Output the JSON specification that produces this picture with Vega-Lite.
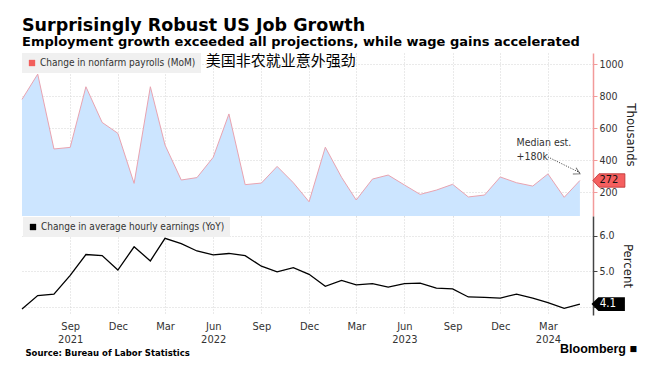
{
  "$schema": "https://vega.github.io/schema/vega-lite/v6.json",
  "padding": {"left": 19, "top": 16, "right": 5, "bottom": 5},
  "background": "white",
  "title": {
    "text": "Surprisingly Robust US Job Growth",
    "subtitle": "Employment growth exceeded all projections, while wage gains accelerated",
    "anchor": "start",
    "frame": "group",
    "font": "DejaVu Sans",
    "fontSize": 17.5,
    "fontWeight": "bold",
    "color": "#000000",
    "subtitleFont": "DejaVu Sans",
    "subtitleFontSize": 13,
    "subtitleFontWeight": "bold",
    "subtitleColor": "#000000",
    "subtitlePadding": 2,
    "offset": 4
  },
  "config": {
    "view": {"stroke": null},
    "axis": {
      "labelFont": "DejaVu Sans Condensed",
      "titleFont": "DejaVu Sans Condensed",
      "labelColor": "#333333",
      "titleColor": "#222222",
      "gridColor": "#d4d4d4",
      "gridDash": [1, 2],
      "gridWidth": 1
    },
    "legend": {
      "labelFont": "DejaVu Sans Condensed",
      "labelFontSize": 10,
      "labelColor": "#333333",
      "labelLimit": 400
    }
  },
  "datasets": {
    "main": [
      {"date": "2021-06-01", "payrolls": 779, "ahe": 3.93},
      {"date": "2021-07-01", "payrolls": 937, "ahe": 4.31},
      {"date": "2021-08-01", "payrolls": 469, "ahe": 4.35},
      {"date": "2021-09-01", "payrolls": 479, "ahe": 4.88},
      {"date": "2021-10-01", "payrolls": 858, "ahe": 5.47},
      {"date": "2021-11-01", "payrolls": 635, "ahe": 5.44},
      {"date": "2021-12-01", "payrolls": 567, "ahe": 5.03},
      {"date": "2022-01-01", "payrolls": 254, "ahe": 5.69},
      {"date": "2022-02-01", "payrolls": 858, "ahe": 5.29},
      {"date": "2022-03-01", "payrolls": 494, "ahe": 5.93},
      {"date": "2022-04-01", "payrolls": 275, "ahe": 5.78},
      {"date": "2022-05-01", "payrolls": 290, "ahe": 5.57},
      {"date": "2022-06-01", "payrolls": 417, "ahe": 5.46},
      {"date": "2022-07-01", "payrolls": 688, "ahe": 5.50},
      {"date": "2022-08-01", "payrolls": 246, "ahe": 5.44},
      {"date": "2022-09-01", "payrolls": 256, "ahe": 5.14},
      {"date": "2022-10-01", "payrolls": 360, "ahe": 4.98},
      {"date": "2022-11-01", "payrolls": 258, "ahe": 5.10},
      {"date": "2022-12-01", "payrolls": 139, "ahe": 4.91},
      {"date": "2023-01-01", "payrolls": 480, "ahe": 4.57},
      {"date": "2023-02-01", "payrolls": 292, "ahe": 4.74},
      {"date": "2023-03-01", "payrolls": 150, "ahe": 4.61},
      {"date": "2023-04-01", "payrolls": 281, "ahe": 4.65},
      {"date": "2023-05-01", "payrolls": 306, "ahe": 4.55},
      {"date": "2023-06-01", "payrolls": 244, "ahe": 4.65},
      {"date": "2023-07-01", "payrolls": 185, "ahe": 4.66},
      {"date": "2023-08-01", "payrolls": 212, "ahe": 4.52},
      {"date": "2023-09-01", "payrolls": 248, "ahe": 4.50},
      {"date": "2023-10-01", "payrolls": 169, "ahe": 4.27},
      {"date": "2023-11-01", "payrolls": 181, "ahe": 4.26},
      {"date": "2023-12-01", "payrolls": 294, "ahe": 4.24},
      {"date": "2024-01-01", "payrolls": 258, "ahe": 4.35},
      {"date": "2024-02-01", "payrolls": 237, "ahe": 4.24},
      {"date": "2024-03-01", "payrolls": 313, "ahe": 4.11},
      {"date": "2024-04-01", "payrolls": 167, "ahe": 3.95},
      {"date": "2024-05-01", "payrolls": 272, "ahe": 4.07}
    ]
  },
  "spacing": 0,
  "resolve": {"scale": {"color": "independent"}, "legend": {"color": "independent"}},
  "vconcat": [
    {
      "width": 571,
      "height": 163,
      "data": {"name": "main"},
      "encoding": {
        "x": {
          "field": "date",
          "type": "temporal",
          "scale": {
            "type": "utc",
            "domain": [
              {"year": 2021, "month": 6, "date": 1, "utc": true},
              {"year": 2024, "month": 5, "date": 26, "utc": true}
            ]
          },
          "axis": {
            "title": null,
            "labels": false,
            "ticks": false,
            "domain": false,
            "grid": true,
            "values": [
              {"year": 2021, "month": 9, "date": 1, "utc": true},
              {"year": 2021, "month": 12, "date": 1, "utc": true},
              {"year": 2022, "month": 3, "date": 1, "utc": true},
              {"year": 2022, "month": 6, "date": 1, "utc": true},
              {"year": 2022, "month": 9, "date": 1, "utc": true},
              {"year": 2022, "month": 12, "date": 1, "utc": true},
              {"year": 2023, "month": 3, "date": 1, "utc": true},
              {"year": 2023, "month": 6, "date": 1, "utc": true},
              {"year": 2023, "month": 9, "date": 1, "utc": true},
              {"year": 2023, "month": 12, "date": 1, "utc": true},
              {"year": 2024, "month": 3, "date": 1, "utc": true}
            ]
          }
        }
      },
      "layer": [
        {
          "mark": {"type": "area", "color": "#cce5ff"},
          "encoding": {
            "y": {
              "field": "payrolls",
              "type": "quantitative",
              "scale": {"domain": [50, 1069], "zero": false, "nice": false},
              "axis": {
                "orient": "right",
                "values": [200, 400, 600, 800, 1000],
                "format": "d",
                "title": "Thousands",
                "titleAngle": 90,
                "titleFontSize": 13,
                "titleFontWeight": "normal",
                "titlePadding": 0,
                "labelFontSize": 10.5,
                "labelPadding": 2,
                "domainColor": "#f29a9a",
                "domainWidth": 1.5,
                "tickColor": "#f29a9a",
                "tickSize": 4,
                "grid": true
              }
            },
            "y2": {"datum": 50}
          }
        },
        {
          "mark": {"type": "line", "strokeWidth": 1},
          "encoding": {
            "y": {"field": "payrolls", "type": "quantitative"},
            "color": {
              "datum": "Change in nonfarm payrolls (MoM)",
              "type": "nominal",
              "scale": {"range": ["#e9a3b0"]},
              "legend": {
                "orient": "top-left",
                "offset": 0,
                "title": null,
                "fillColor": "#f0f0f0",
                "padding": 5,
                "symbolType": "square",
                "symbolSize": 40,
                "labelOffset": 3,
                "encode": {
                  "symbols": {
                    "update": {
                      "fill": {"value": "#f25f5c"},
                      "stroke": {"value": "#f25f5c"},
                      "strokeWidth": {"value": 0}
                    }
                  }
                }
              }
            }
          }
        },
        {
          "data": {"values": [{}]},
          "mark": {"type": "rule", "color": "#3a3a3a", "strokeWidth": 2.5, "clip": false},
          "encoding": {
            "x": {"datum": {"year": 2021, "month": 6, "date": 1, "utc": true}, "type": "temporal"},
            "x2": {"datum": {"year": 2024, "month": 8, "date": 23, "utc": true}},
            "y": {"datum": 50, "type": "quantitative"}
          }
        },
        {
          "data": {"values": [{"date": "2022-05-18", "value": 1016, "label": "美国非农就业意外强劲"}]},
          "mark": {"type": "text", "align": "left", "baseline": "middle", "font": "Noto Sans CJK SC", "fontSize": 15, "color": "#000000"},
          "encoding": {
            "x": {"field": "date", "type": "temporal"},
            "y": {"field": "value", "type": "quantitative"},
            "text": {"field": "label"}
          }
        },
        {
          "data": {"values": [
            {"date": "2024-01-01", "value": 506, "label": "Median est."},
            {"date": "2024-01-01", "value": 419, "label": "+180k"}
          ]},
          "mark": {"type": "text", "align": "left", "baseline": "middle", "font": "DejaVu Sans Condensed", "fontSize": 10.5, "color": "#333333"},
          "encoding": {
            "x": {"field": "date", "type": "temporal"},
            "y": {"field": "value", "type": "quantitative"},
            "text": {"field": "label"}
          }
        },
        {
          "data": {"values": [{"d1": "2024-03-01", "v1": 419, "d2": "2024-05-01", "v2": 321}]},
          "mark": {"type": "rule", "color": "#333333", "strokeWidth": 1, "strokeDash": [1, 1.5]},
          "encoding": {
            "x": {"field": "d1", "type": "temporal"},
            "y": {"field": "v1", "type": "quantitative"},
            "x2": {"field": "d2"},
            "y2": {"field": "v2"}
          }
        },
        {
          "data": {"values": [{"date": "2024-05-01", "value": 321}]},
          "mark": {"type": "point", "shape": "M -1 -0.9 L 0.6 0 L -1 0.9", "filled": false, "stroke": "#333333", "strokeWidth": 1, "size": 60, "angle": 27, "xOffset": -2},
          "encoding": {
            "x": {"field": "date", "type": "temporal"},
            "y": {"field": "value", "type": "quantitative"}
          }
        },
        {
          "transform": [{"filter": "utcyear(datum.date) == 2024 && utcmonth(datum.date) == 4"}],
          "mark": {"type": "point", "shape": "M -1 0 L -0.62 -0.42 L 1 -0.42 L 1 0.42 L -0.62 0.42 Z", "filled": true, "fill": "#f55f5f", "stroke": "#b83030", "strokeWidth": 0.8, "size": 1024, "xOffset": 29, "opacity": 1},
          "encoding": {
            "y": {"field": "payrolls", "type": "quantitative"}
          }
        },
        {
          "transform": [{"filter": "utcyear(datum.date) == 2024 && utcmonth(datum.date) == 4"}],
          "mark": {"type": "text", "align": "center", "baseline": "middle", "dx": 29, "font": "DejaVu Sans Condensed", "fontSize": 11, "color": "#111111"},
          "encoding": {
            "y": {"field": "payrolls", "type": "quantitative"},
            "text": {"field": "payrolls", "type": "quantitative"}
          }
        }
      ]
    },
    {
      "width": 571,
      "height": 99,
      "data": {"name": "main"},
      "title": {
        "text": "Bloomberg \u25A0",
        "orient": "bottom",
        "anchor": "end",
        "frame": "group",
        "align": "right",
        "font": "Liberation Sans",
        "fontSize": 12.5,
        "fontWeight": "bold",
        "color": "#000000",
        "dx": 44,
        "dy": -14,
        "offset": 0
      },
      "encoding": {
        "x": {
          "field": "date",
          "type": "temporal",
          "scale": {
            "type": "utc",
            "domain": [
              {"year": 2021, "month": 6, "date": 1, "utc": true},
              {"year": 2024, "month": 5, "date": 26, "utc": true}
            ]
          },
          "axis": {
            "title": "Source: Bureau of Labor Statistics",
            "titleFont": "DejaVu Sans",
            "titleFontSize": 8.5,
            "titleFontWeight": "bold",
            "titleColor": "#000000",
            "titleAnchor": "start",
            "titleAlign": "left",
            "titleX": 3,
            "titlePadding": 4,
            "labels": true,
            "labelFontSize": 11,
            "labelLineHeight": 13,
            "labelPadding": 5,
            "labelExpr": "((utcmonth(datum.value) == 8 && utcyear(datum.value) == 2021) || (utcmonth(datum.value) == 5 && utcyear(datum.value) < 2024) || (utcmonth(datum.value) == 2 && utcyear(datum.value) == 2024)) ? [utcFormat(datum.value, '%b'), utcFormat(datum.value, '%Y')] : utcFormat(datum.value, '%b')",
            "ticks": false,
            "domain": false,
            "grid": true,
            "values": [
              {"year": 2021, "month": 9, "date": 1, "utc": true},
              {"year": 2021, "month": 12, "date": 1, "utc": true},
              {"year": 2022, "month": 3, "date": 1, "utc": true},
              {"year": 2022, "month": 6, "date": 1, "utc": true},
              {"year": 2022, "month": 9, "date": 1, "utc": true},
              {"year": 2022, "month": 12, "date": 1, "utc": true},
              {"year": 2023, "month": 3, "date": 1, "utc": true},
              {"year": 2023, "month": 6, "date": 1, "utc": true},
              {"year": 2023, "month": 9, "date": 1, "utc": true},
              {"year": 2023, "month": 12, "date": 1, "utc": true},
              {"year": 2024, "month": 3, "date": 1, "utc": true}
            ]
          }
        }
      },
      "layer": [
        {
          "mark": {"type": "line", "strokeWidth": 1.3},
          "encoding": {
            "y": {
              "field": "ahe",
              "type": "quantitative",
              "scale": {"domain": [3.76, 6.56], "zero": false, "nice": false},
              "axis": {
                "orient": "right",
                "values": [4, 5, 6],
                "labelExpr": "datum.value == 4 ? '' : format(datum.value, '.1f')",
                "title": "Percent",
                "titleAngle": 90,
                "titleFontSize": 13,
                "titleFontWeight": "normal",
                "titlePadding": 6,
                "labelFontSize": 10.5,
                "labelPadding": 2,
                "domainColor": "#444444",
                "domainWidth": 1.5,
                "tickColor": "#444444",
                "tickSize": 4,
                "grid": true
              }
            },
            "color": {
              "datum": "Change in average hourly earnings (YoY)",
              "type": "nominal",
              "scale": {"range": ["#000000"]},
              "legend": {
                "orient": "top-left",
                "offset": 1,
                "title": null,
                "fillColor": "#f0f0f0",
                "padding": 5,
                "symbolType": "square",
                "symbolSize": 40,
                "labelOffset": 3,
                "encode": {
                  "symbols": {
                    "update": {
                      "fill": {"value": "#000000"},
                      "stroke": {"value": "#000000"},
                      "strokeWidth": {"value": 0}
                    }
                  }
                }
              }
            }
          }
        },
        {
          "transform": [{"filter": "utcyear(datum.date) == 2024 && utcmonth(datum.date) == 4"}],
          "mark": {"type": "point", "shape": "M -1 0 L -0.62 -0.38 L 1 -0.38 L 1 0.38 L -0.62 0.38 Z", "filled": true, "fill": "#000000", "stroke": "#000000", "size": 961, "xOffset": 28.5, "opacity": 1},
          "encoding": {
            "y": {"field": "ahe", "type": "quantitative"}
          }
        },
        {
          "transform": [{"filter": "utcyear(datum.date) == 2024 && utcmonth(datum.date) == 4"}],
          "mark": {"type": "text", "align": "center", "baseline": "middle", "dx": 28, "font": "DejaVu Sans Condensed", "fontSize": 11.5, "color": "#ffffff"},
          "encoding": {
            "y": {"field": "ahe", "type": "quantitative"},
            "text": {"field": "ahe", "type": "quantitative", "format": ".1f"}
          }
        }
      ]
    }
  ]
}
